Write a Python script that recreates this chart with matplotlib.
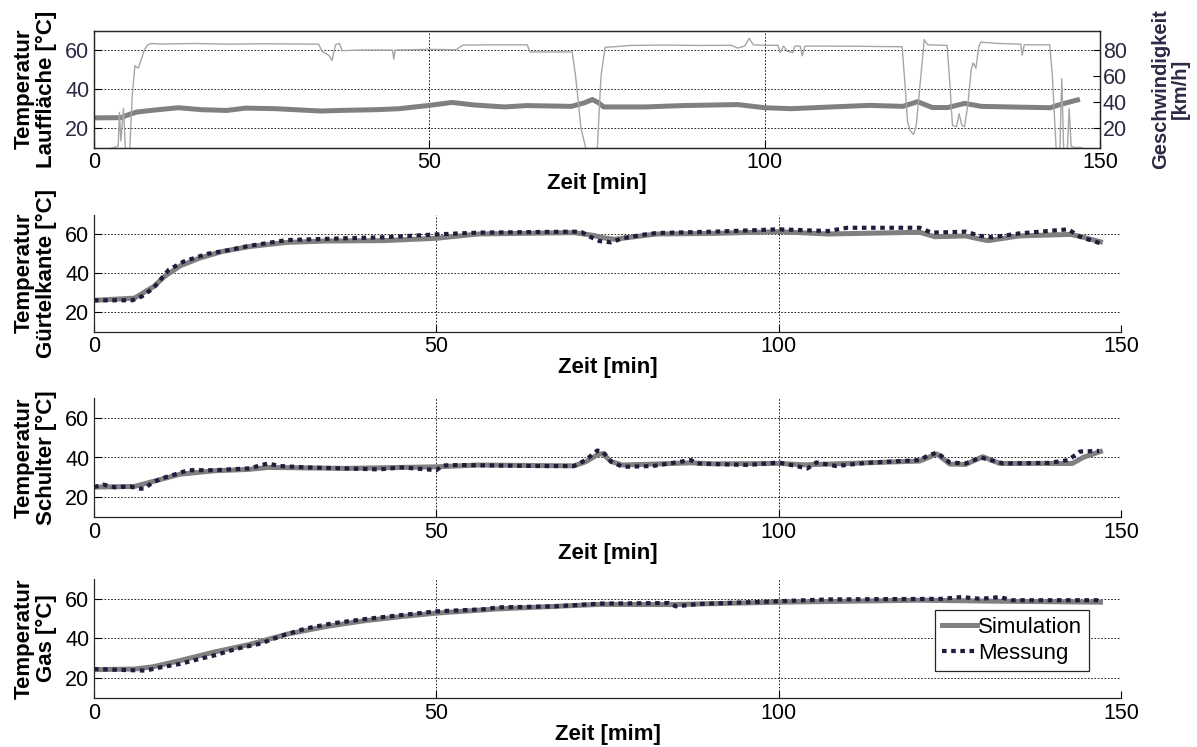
import matplotlib.pyplot as plt

plt.rcParams['font.family'] = ['Liberation Sans', 'DejaVu Sans']

# --- data (time in min) ---
speed_t = [0, 2.0, 2.3, 3.0, 3.6, 3.8, 4.0, 4.4, 4.7, 5.0, 5.3, 5.7, 6.1, 6.6, 7.0, 7.5, 8.0, 8.6,
           10, 15, 20, 25, 30, 33.5, 34, 35, 35.5, 36, 36.6, 37, 40, 44.5, 44.7, 44.9, 50, 54, 55,
           60, 64.6, 65, 71.3, 71.8, 72.2, 72.6, 73.3, 73.5, 75.0, 75.6, 76.2, 80, 85, 90, 95, 96,
           97, 97.7, 98.3, 100, 102, 102.3, 102.8, 103.4, 104.2, 104.5, 105.3, 105.6, 106, 110, 115,
           120.5, 120.9, 121.3, 121.7, 122.2, 122.6, 123.2, 123.8, 124.3, 127.2, 127.6, 128.0, 128.6,
           129.0, 129.4, 129.8, 130.3, 130.8, 131.1, 131.5, 131.9, 132.2, 135, 138.2, 138.4, 138.7,
           142.5, 142.9, 143.5, 144.0, 144.3, 144.6, 145.1, 145.4, 145.7, 146.2, 147.3]
speed_v = [0, 0, 4, 5, 6, 32, 10, 35, 2, 0, 0, 45, 68, 66, 72, 80, 84, 85,
           84.6, 85, 84.5, 84.8, 84.6, 84.5, 79, 76, 72, 84, 85, 79.5, 80, 80, 73, 80, 80.5, 80.2, 83.8,
           84, 84, 78.5, 78.5, 60, 41, 20, 5, 0, 0, 60, 82, 83.5, 83.8, 83.5, 83.6, 81.5,
           83, 89, 84, 83.6, 83.6, 78, 83, 79, 78, 83, 83, 75.5, 83, 83, 82.8,
           82.5, 55, 25, 18, 15, 22, 55, 88, 84, 83.5, 55, 22, 21,
           31, 22, 21, 38, 65, 70, 66, 82, 86, 85, 84.5, 76, 84,
           84, 60, 0, 0, 58, 0, 0, 35, 6, 5, 5]

lauf_t = [0, 4, 5.3, 6.4, 9, 12.6, 16, 19.8, 22.6, 27.1, 33.8, 36.6, 42.2, 45.5, 50, 53.4, 56.7,
          61.2, 64.5, 71.2, 73.2, 74.3, 75.2, 76, 82.2, 87.8, 96, 100, 103.9, 110, 115.6, 120.6,
          122.8, 125, 127.3, 129.8, 132.3, 137.9, 142.6, 144, 147]
lauf_sim = [25.2, 25.3, 27, 28.2, 29.2, 30.4, 29.4, 29, 30.2, 29.9, 28.7, 29, 29.4, 29.9, 31.6, 33.1,
            31.8, 30.8, 31.5, 31.1, 33, 34.6, 33, 30.8, 30.8, 31.5, 32, 30.4, 29.9, 30.8, 31.6, 31.1,
            33.5, 30.5, 30.5, 32.6, 31.1, 30.7, 30.4, 32, 34.7]

guertel_sim_t = [0, 5.9, 8.7, 10.3, 12.6, 15.4, 18.7, 22.6, 28.2, 33.8, 42.2, 50, 56.1, 70.1, 72.9,
                 74.5, 76, 82.2, 90.5, 100, 107.2, 120.6, 122.8, 127.3, 129.5, 130.6, 135.1, 142.6,
                 144, 147]
guertel_sim = [26, 27.1, 33, 38.2, 43.7, 47.6, 51, 53.5, 55.7, 56.4, 56.6, 57.8, 60, 60.7, 59.3,
               58, 57.3, 60, 60.3, 61.2, 60, 60.9, 58.6, 59, 57.3, 56.6, 59, 59.8, 58.8, 56]
guertel_mes_t = [0, 5.6, 7, 8.7, 10.9, 13.1, 16.5, 19.8, 22.6, 28.2, 36.6, 42.2, 50, 56.1, 70.1,
                 71.2, 72.5, 73.8, 75.5, 77.2, 80.5, 82.2, 90.5, 100, 107.2, 110, 120.6, 122.3,
                 127.3, 129.5, 131.2, 135.1, 142.3, 144, 147]
guertel_mes = [26, 26, 28, 32.3, 41.6, 45.9, 49.8, 51.8, 53.9, 56.9, 57.8, 58.3, 59.8, 60.7, 61.2,
               61, 58.5, 56.4, 55.7, 57.8, 59.8, 60.5, 61.2, 62.4, 61.5, 63.2, 63.2, 60.7,
               61.2, 59, 58.3, 60.3, 62.4, 58.6, 55.2]

schulter_sim_t = [0, 5.9, 8.7, 12.6, 17.6, 22.6, 25.4, 36.6, 50, 56.1, 70.1, 71.8, 73.5, 74.3,
                  75.5, 77.2, 87.2, 90.5, 100, 103.9, 120.6, 123.1, 125, 127.3, 129.8, 132.3,
                  142.9, 144.5, 147]
schulter_sim = [25.1, 25.4, 28, 31.6, 33.3, 34, 35, 34.5, 35.3, 36.2, 35.8, 37.8, 41.3, 42,
                38, 36.2, 37.3, 36.8, 37, 36.3, 38.2, 41.8, 36.7, 36.5, 40.4, 37,
                37, 40.1, 43]
schulter_mes_t = [0, 1.4, 3, 5.3, 6.4, 7.3, 8.7, 10.3, 12.6, 13.7, 17.6, 22.6, 25.4, 27.1, 31,
                  36.6, 41.6, 45, 50, 51, 53.4, 64.5, 70.1, 71.8, 73.5, 74.3, 75.5, 77.2, 81.6,
                  87.2, 88, 95.5, 100, 104.2, 105.5, 108.4, 112.8, 120.6, 121.7, 123.1, 125,
                  127.3, 129.5, 132.8, 139.5, 142.3, 144, 146.8]
schulter_mes = [25.1, 26.3, 25, 25.4, 24.3, 24.3, 27.7, 29.9, 32.3, 33.6, 33.6, 34.5, 37, 35.7, 35,
                34.5, 34, 35, 33.6, 36, 36.2, 35.7, 35.7, 38.7, 43.5, 43, 38, 35.3, 35.7,
                38.7, 37, 36.2, 37.5, 34.5, 37.5, 35.7, 37.3, 38.7, 40.8, 42.5, 37.5,
                37, 40, 37, 37.3, 38.7, 43, 43.3]

gas_sim_t = [0, 5.9, 8.7, 12.6, 17.6, 22.6, 28.2, 33.8, 39.4, 45, 50, 58.9, 67.3, 73.9, 84.4,
             100, 120.6, 132.3, 147]
gas_sim = [24.3, 24.6, 25.8, 28.9, 33.2, 36.9, 42.2, 46, 48.9, 51.1, 52.8, 54.9, 56.2, 57.2, 57.1,
           58.3, 59.3, 58.8, 58.3]
gas_mes_t = [0, 7.5, 9.8, 12.6, 15.4, 17.6, 20.9, 24.3, 27.7, 31, 34.9, 39.4, 42.2, 50, 57.3,
             58.9, 67.3, 73.9, 83.9, 85, 88.3, 100, 107.2, 123.9, 126.7, 129.5, 132.3, 134.1, 147]
gas_mes = [24.6, 23.8, 25.5, 27.2, 29.7, 31.5, 34.9, 37.4, 41.7, 45.1, 47.7, 49.7, 50.8, 53.7, 54.8,
           55.7, 56.2, 57.6, 57.9, 56.2, 57.4, 58.8, 59.7, 60, 60.9, 60, 60.9, 59.3, 59.3]

sim_color = '#808080'
mes_color = '#1e1e3c'
speed_color = '#a6a6a6'
navy_text = '#2a2a44'
tick_fs = 15.5
label_fs = 16
ylab_fs = 16

fig = plt.figure(figsize=(11.97, 7.47), dpi=100)
W, H = 1197, 747


def px_axes(left, right, top, bottom):
    return fig.add_axes([left / W, 1 - bottom / H, (right - left) / W, (bottom - top) / H])


def style(ax, xlab, box=False):
    ax.set_xlim(0, 150)
    ax.set_ylim(10, 70)
    ax.set_xticks([0, 50, 100, 150])
    ax.set_yticks([20, 40, 60])
    ax.grid(True, color='black', linestyle=(0, (2, 2)), linewidth=0.6)
    ax.tick_params(direction='in', length=5, labelsize=tick_fs, width=0.8)
    for s in ax.spines.values():
        s.set_linewidth(0.9)
        s.set_color('#262626')
    if not box:
        ax.spines['top'].set_visible(False)
        ax.spines['right'].set_visible(False)
    ax.set_xlabel(xlab, fontsize=label_fs, fontweight='bold', labelpad=0)


# panel 1: Lauffläche + Geschwindigkeit
ax1 = px_axes(94, 1100, 30.5, 147.5)
style(ax1, 'Zeit [min]', box=True)
ax1.tick_params(axis='y', labelcolor=navy_text)
ax1.plot(lauf_t, lauf_sim, color=sim_color, lw=3.6, solid_capstyle='butt')
ax1.set_ylabel('Temperatur\nLauffläche [°C]', fontsize=ylab_fs, fontweight='bold', linespacing=1.05)
ax1.yaxis.set_label_coords(-0.037, 0.5)
ax1b = ax1.twinx()
ax1b.plot(speed_t, speed_v, color=speed_color, lw=1.0)
ax1b.set_ylim(5, 95)
ax1b.set_yticks([20, 40, 60, 80])
ax1b.tick_params(direction='in', length=5, labelsize=tick_fs, width=0.8, pad=2, labelcolor=navy_text)
ax1b.set_ylabel('Geschwindigkeit\n[km/h]', fontsize=14.5, fontweight='bold', color=navy_text,
                linespacing=1.05)
ax1b.yaxis.set_label_coords(1.051, 0.5)
for s in ax1b.spines.values():
    s.set_linewidth(0.9)
    s.set_color('#262626')

panels = [
    (214.5, 331.5, 'Temperatur\nGürtelkante [°C]', guertel_sim_t, guertel_sim, guertel_mes_t, guertel_mes, 'Zeit [min]'),
    (398, 517, 'Temperatur\nSchulter [°C]', schulter_sim_t, schulter_sim, schulter_mes_t, schulter_mes, 'Zeit [min]'),
    (579, 698, 'Temperatur\nGas [°C]', gas_sim_t, gas_sim, gas_mes_t, gas_mes, 'Zeit [mim]'),
]
for top, bottom, ylab, st, sv, mt, mv, xlab in panels:
    ax = px_axes(94, 1121, top, bottom)
    style(ax, xlab)
    ax.plot(st, sv, color=sim_color, lw=3.6, label='Simulation')
    ax.plot(mt, mv, color=mes_color, lw=3.0, linestyle=(0, (1.1, 1.1)), label='Messung')
    ax.set_ylabel(ylab, fontsize=ylab_fs, fontweight='bold', linespacing=1.05)
    ax.yaxis.set_label_coords(-0.036, 0.5)
    last = ax

leg = last.legend(loc='upper right', bbox_to_anchor=(0.969, 0.74), fontsize=16, frameon=True,
                  fancybox=False, framealpha=1, edgecolor='#262626', handlelength=1.6,
                  handletextpad=0.05, borderpad=0.3, labelspacing=0.25, borderaxespad=0)
leg.get_frame().set_linewidth(0.9)

fig.savefig('out.png', dpi=100)
